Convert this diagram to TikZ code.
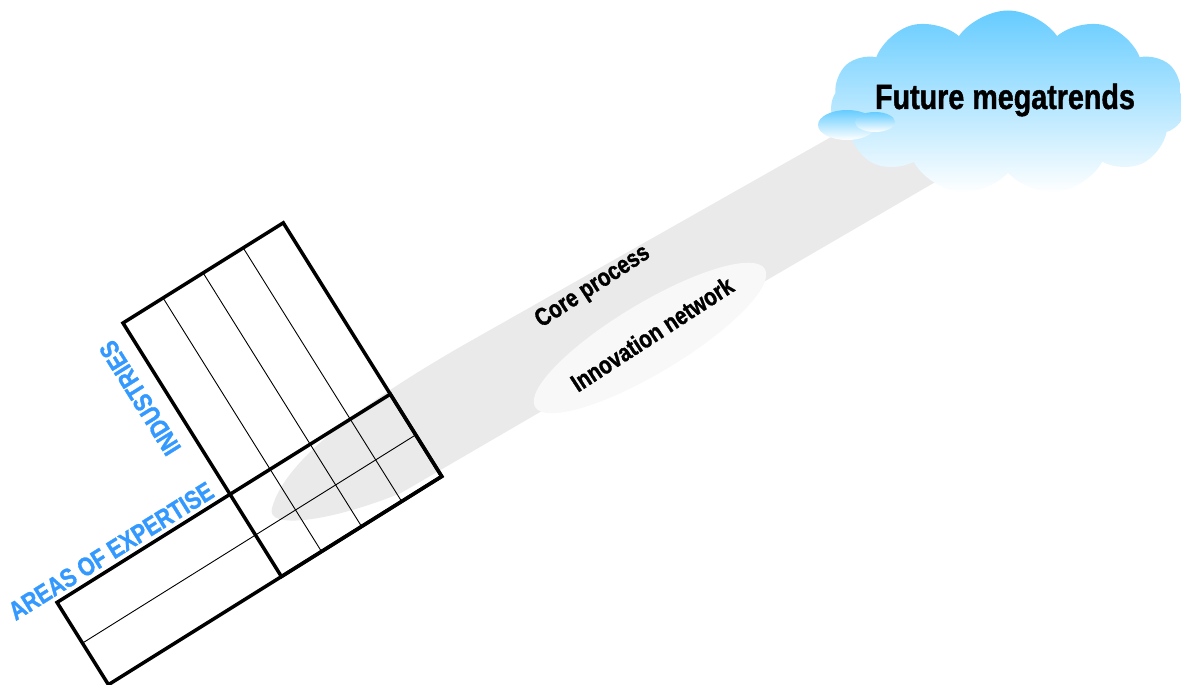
\documentclass[tikz,border=0pt]{standalone}
\usepackage{fontspec}
\newfontfamily\narrowfont{Liberation Sans}[FakeStretch=0.82,BoldFeatures={FakeBold=1.2}]
\usetikzlibrary{shapes.symbols}
\definecolor{labelblue}{RGB}{51,153,255}
\definecolor{skyblue}{RGB}{102,204,255}
\definecolor{beamgray}{RGB}{234,234,234}
\definecolor{netgray}{RGB}{248,248,248}

\begin{document}
\begin{tikzpicture}[x=1pt,y=-1pt,
    frame/.style={line width=3.5pt,line join=miter},
    cell/.style={line width=0.9pt},
    axislabel/.style={text=labelblue,font=\narrowfont\bfseries\fontsize{26}{30}\selectfont},
    beamlabel/.style={font=\narrowfont\bfseries\fontsize{25}{30}\selectfont},
    puff/.style={top color=skyblue,bottom color=white,draw=none}]
    \useasboundingbox (0,0) rectangle (1181,685);
    % core process beam
    \fill[beamgray] (900,98) -- (460,347) .. controls (360,405) and (285,460) .. (272,508)
        .. controls (265,530) and (330,522) .. (401,493) -- (980,156) -- cycle;
    \fill[netgray,rotate around={31:(650,338)}] (650,338) ellipse (134 and 35);
    \node[beamlabel,rotate=33] (core) at (593,287) {Core process};
    \node[beamlabel,rotate=33] (network) at (652,334) {Innovation network};
    % cloud
    \node[puff,cloud,cloud puffs=11,cloud puff arc=110,cloud ignores aspect,
        minimum width=355,minimum height=185] (cloud) at (1008,103) {};
    \shade[puff] (847,125) ellipse (29 and 15);
    \shade[puff] (875,122) ellipse (20 and 10);
    \node[font=\narrowfont\bfseries\fontsize{35}{40}\selectfont] (trends) at (1005,100) {Future megatrends};
    % matrix
    \begin{scope}[shift={(123,323)},rotate=32]
        \foreach \a in {47.25,94.5,141.75}
            \draw[cell] (\a,0) -- (\a,299);
        \draw[cell] (-204,250) -- (189,250);
        \draw[frame] (0,0) rectangle (189,299);
        \draw[frame] (-204,202) rectangle (189,299);
    \end{scope}
    \node[axislabel,rotate=122] (industries) at (140,398) {INDUSTRIES};
    \node[axislabel,rotate=32] (expertise) at (111,551) {AREAS OF EXPERTISE};
\end{tikzpicture}
\end{document}
